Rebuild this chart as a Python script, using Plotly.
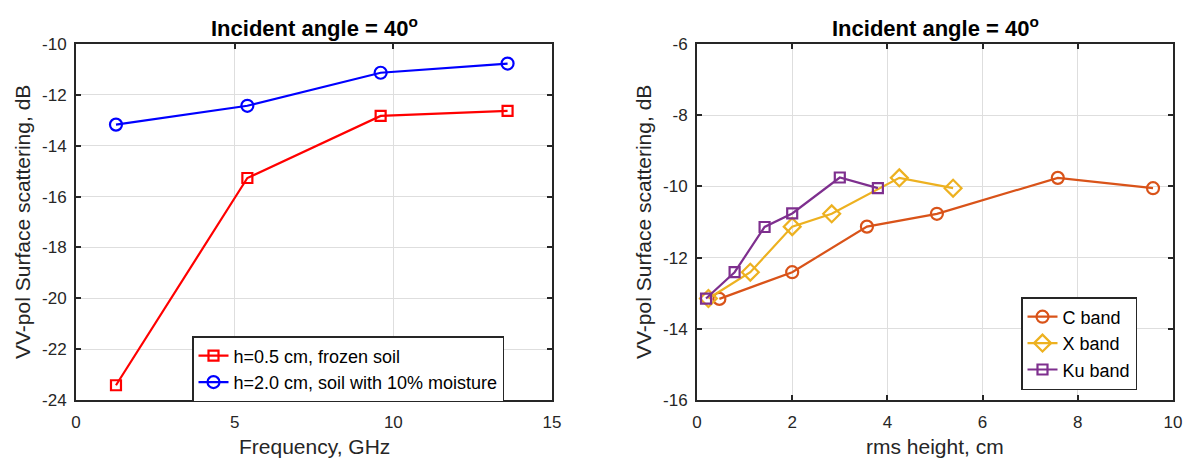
import plotly.graph_objects as go

# ---------------- data ----------------
freq_ghz = [1.26, 5.4, 9.6, 13.6]
frozen_h05 = [-23.42, -15.27, -12.83, -12.63]
moist_h20 = [-13.17, -12.43, -11.13, -10.77]

c_rms = [0.47, 2.0, 3.57, 5.04, 7.58, 9.58]
c_vv = [-13.16, -12.41, -11.13, -10.77, -9.76, -10.05]
x_rms = [0.24, 1.12, 2.0, 2.83, 4.25, 5.38]
x_vv = [-13.15, -12.41, -11.13, -10.77, -9.76, -10.05]
ku_rms = [0.19, 0.79, 1.42, 2.0, 3.0, 3.8]
ku_vv = [-13.15, -12.41, -11.14, -10.76, -9.75, -10.05]

left_xticks = [0, 5, 10, 15]
left_yticks = [-24, -22, -20, -18, -16, -14, -12, -10]
left_yticklabels = ["-24", "-22", "-20", "-18", "-16", "-14", "-12", "-10"]
right_xticks = [0, 2, 4, 6, 8, 10]
right_yticks = [-16, -14, -12, -10, -8, -6]
right_yticklabels = ["-16", "-14", "-12", "-10", "-8", "-6"]

title_text = "<b>Incident angle = 40<sup>o</sup></b>"

# ---------------- style ----------------
W, H = 1186, 460
FONT = "Liberation Sans, Arial, Helvetica, sans-serif"
AX = "#262626"
GRID = "#dedede"

def px_x(p):
    return p / W

def px_y(p):
    return 1 - p / H

L_dom = [px_x(76), px_x(552)]
R_dom = [px_x(697), px_x(1173)]
Y_dom = [px_y(400), px_y(44)]

fig = go.Figure()

fig.add_trace(go.Scatter(
    x=freq_ghz, y=frozen_h05, mode="lines+markers", name="h=0.5 cm, frozen soil",
    line=dict(color="#ff0000", width=2.2),
    marker=dict(symbol="square-open", size=10, color="#ff0000", line=dict(width=2.2)),
    xaxis="x", yaxis="y", legend="legend"))
fig.add_trace(go.Scatter(
    x=freq_ghz, y=moist_h20, mode="lines+markers", name="h=2.0 cm, soil with 10% moisture",
    line=dict(color="#0000ff", width=2.2),
    marker=dict(symbol="circle-open", size=12, color="#0000ff", line=dict(width=2.2)),
    xaxis="x", yaxis="y", legend="legend"))

fig.add_trace(go.Scatter(
    x=c_rms, y=c_vv, mode="lines+markers", name="C band",
    line=dict(color="#D95319", width=2.2),
    marker=dict(symbol="circle-open", size=12, color="#D95319", line=dict(width=2.2)),
    xaxis="x2", yaxis="y2", legend="legend2"))
fig.add_trace(go.Scatter(
    x=x_rms, y=x_vv, mode="lines+markers", name="X band",
    line=dict(color="#EDB120", width=2.2),
    marker=dict(symbol="diamond-open", size=13, color="#EDB120", line=dict(width=2.2)),
    xaxis="x2", yaxis="y2", legend="legend2"))
fig.add_trace(go.Scatter(
    x=ku_rms, y=ku_vv, mode="lines+markers", name="Ku band",
    line=dict(color="#7E2F8E", width=2.2),
    marker=dict(symbol="square-open", size=10, color="#7E2F8E", line=dict(width=2.2)),
    xaxis="x2", yaxis="y2", legend="legend2"))

common_axis = dict(
    automargin=False,
    showline=True, linecolor=AX, linewidth=2, mirror="allticks",
    ticks="inside", ticklen=5, tickwidth=2, tickcolor=AX,
    showgrid=True, gridcolor=GRID, gridwidth=1.3, zeroline=False,
    tickfont=dict(family=FONT, size=17, color=AX),
)

fig.update_layout(
    template="none",
    width=W, height=H,
    margin=dict(l=0, r=0, t=0, b=0),
    paper_bgcolor="white", plot_bgcolor="white",
    font=dict(family=FONT, color=AX),
    xaxis=dict(domain=L_dom, range=[0, 15], tickvals=left_xticks, anchor="y",
               ticklabelstandoff=6, **common_axis),
    yaxis=dict(domain=Y_dom, range=[-24, -10], tickvals=left_yticks, ticktext=left_yticklabels,
               anchor="x", ticklabelstandoff=4, **common_axis),
    xaxis2=dict(domain=R_dom, range=[0, 10], tickvals=right_xticks, anchor="y2",
                ticklabelstandoff=6, **common_axis),
    yaxis2=dict(domain=Y_dom, range=[-16, -6], tickvals=right_yticks, ticktext=right_yticklabels,
                anchor="x2", ticklabelstandoff=4, **common_axis),
    legend=dict(x=px_x(192), y=px_y(336), xanchor="left", yanchor="top",
                bgcolor="white", bordercolor=AX, borderwidth=1.5,
                font=dict(family=FONT, size=18, color="#000000"),
                tracegroupgap=0, itemwidth=30),
    legend2=dict(x=px_x(1021), y=px_y(297), xanchor="left", yanchor="top",
                 bgcolor="white", bordercolor=AX, borderwidth=1.5,
                 font=dict(family=FONT, size=18, color="#000000"),
                 tracegroupgap=0, itemwidth=30),
    showlegend=True,
)

annotations = []
for cx in [(76 + 552) / 2, (697 + 1173) / 2]:
    annotations.append(dict(text=title_text, x=px_x(cx), y=px_y(27), xref="paper", yref="paper",
                            showarrow=False, xanchor="center", yanchor="middle",
                            font=dict(family=FONT, size=22, color="#000000")))
annotations.append(dict(text="Frequency, GHz", x=px_x(314), y=px_y(446), xref="paper", yref="paper",
                        showarrow=False, xanchor="center", yanchor="middle",
                        font=dict(family=FONT, size=21, color=AX)))
annotations.append(dict(text="rms height, cm", x=px_x(935), y=px_y(446), xref="paper", yref="paper",
                        showarrow=False, xanchor="center", yanchor="middle",
                        font=dict(family=FONT, size=21, color=AX)))
for cx in [22, 643]:
    annotations.append(dict(text="VV-pol Surface scattering, dB", x=px_x(cx), y=px_y(222),
                            xref="paper", yref="paper", showarrow=False, textangle=-90,
                            xanchor="center", yanchor="middle",
                            font=dict(family=FONT, size=21, color=AX)))
fig.update_layout(annotations=annotations)

fig.write_html(
    "out.html",
    config={"displayModeBar": False},
    post_script="document.body.style.margin='0';document.body.style.overflow='hidden';",
)
